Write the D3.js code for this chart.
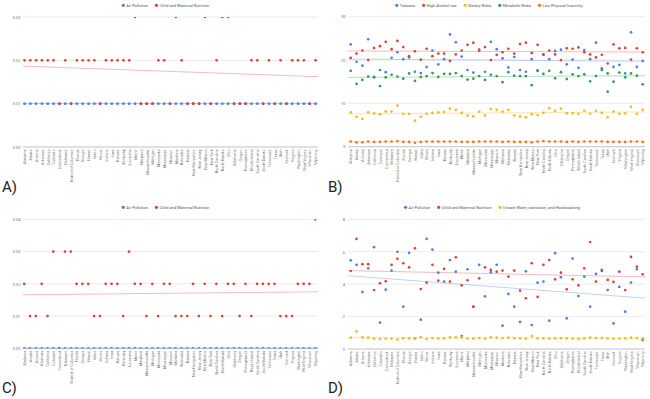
<!DOCTYPE html>
<html>
<head>
<meta charset="utf-8">
<script src="https://cdnjs.cloudflare.com/ajax/libs/d3/7.8.5/d3.min.js"></script>
<style>
    body { margin: 0; background: #fff; }
    svg { display: block; font-family: Roboto, Arial, sans-serif; }
</style>
</head>
<body>
<svg></svg>
<script>
// States along every x axis
let states = ['Alabama','Alaska','Arizona','Arkansas','California','Colorado','Connecticut','Delaware',
    'District of Columbia','Florida','Georgia','Hawaii','Idaho','Illinois','Indiana','Iowa','Kansas',
    'Kentucky','Louisiana','Maine','Maryland','Massachusetts','Michigan','Minnesota','Mississippi',
    'Missouri','Montana','Nebraska','Nevada','New Hampshire','New Jersey','New Mexico','New York',
    'North Carolina','North Dakota','Ohio','Oklahoma','Oregon','Pennsylvania','Rhode Island',
    'South Carolina','South Dakota','Tennessee','Texas','Utah','Vermont','Virginia','Washington',
    'West Virginia','Wisconsin','Wyoming']

// Panel A
let aAirPollution = [0.01,0.01,0.01,0.01,0.01,0.01,0.01,0.01,0.01,0.01,0.01,0.01,0.01,0.01,0.01,0.01,0.01,
    0.01,0.01,0.01,0.01,0.01,0.01,0.01,0.01,0.01,0.01,0.01,0.01,0.01,0.01,0.01,0.01,0.01,0.01,0.01,0.01,
    0.01,0.01,0.01,0.01,0.01,0.01,0.01,0.01,0.01,0.01,0.01,0.01,0.01,0.01]
let aChildNutrition = [0.02,0.02,0.02,0.02,0.02,0.02,0.01,0.02,0.01,0.02,0.02,0.02,0.02,0.01,0.02,0.02,0.02,
    0.02,0.02,0.03,0.01,0.01,0.01,0.02,0.02,0.01,0.03,0.02,0.01,0.01,0.01,0.03,0.01,0.02,0.03,0.03,0.01,
    0.01,0.01,0.02,0.02,0.01,0.02,0.01,0.02,0.01,0.02,0.02,0.02,0.01,0.02]
let aTicks = [0, 0.01, 0.02, 0.03]

// Panel B
let bTobacco = [23.6,19.6,18.7,24.8,16.0,17.7,17.2,20.5,21.8,20.2,20.6,17.3,17.0,18.4,22.2,19.0,20.2,
    25.9,24.1,20.8,17.7,17.1,22.1,17.3,24.2,22.5,20.4,18.3,20.7,17.7,17.3,20.2,17.6,21.2,20.2,22.1,22.4,
    19.0,20.1,18.2,22.3,20.2,24.0,18.1,12.7,18.4,18.9,16.9,26.4,18.4,19.8]
let bAlcohol = [20.5,21.5,22.2,20.0,22.8,23.2,24.2,22.5,24.4,23.0,20.9,22.0,20.1,22.6,20.9,21.5,21.5,
    19.8,21.3,22.2,23.5,24.0,22.4,23.0,20.0,21.2,21.8,22.6,21.5,23.7,24.0,21.6,23.5,21.3,22.2,21.3,20.0,
    22.7,22.6,22.9,21.8,21.3,20.6,21.2,19.2,23.6,22.7,22.8,20.1,22.7,21.8]
let bDietary = [7.9,6.9,6.4,7.9,7.7,7.5,8.1,8.1,9.5,7.6,7.6,6.0,6.9,7.6,7.8,7.9,8.0,8.8,8.5,7.8,7.2,
    7.0,8.1,7.2,8.7,8.5,8.1,8.5,7.2,7.0,6.8,7.5,7.3,7.8,8.9,8.3,8.8,7.7,7.7,7.6,8.3,7.6,8.3,7.8,6.8,8.1,
    7.6,7.7,9.2,7.6,8.5]
let bMetabolic = [17.5,14.5,15.4,16.2,16.1,14.0,16.0,16.6,16.2,15.7,16.9,15.2,16.1,16.3,17.0,16.1,16.8,
    16.8,17.0,16.3,15.5,15.7,16.3,15.4,16.6,16.3,14.9,17.2,16.4,16.3,16.3,14.2,17.5,16.8,17.5,15.8,17.2,
    15.6,16.7,16.3,16.7,15.1,16.3,17.7,16.9,15.0,17.1,16.0,16.9,16.4,14.4]
let bPhysical = [1.2,1.0,1.0,1.2,1.1,1.1,1.2,1.2,1.3,1.1,1.1,0.9,1.1,1.2,1.2,1.2,1.2,1.2,1.2,1.1,1.1,
    1.1,1.2,1.2,1.2,1.2,1.1,1.2,1.1,1.1,1.1,1.0,1.2,1.3,1.2,1.2,1.2,1.1,1.2,1.1,1.2,1.2,1.2,1.2,1.1,1.1,
    1.1,1.1,1.2,1.2,1.1]
let bTicks = [0, 10, 20, 30]

// Panel C
let cAirPollution = [0,0,0,0,0,0,0,0,0,0,0,0,0,0,0,0,0,0,0,0,0,0,0,0,0,0,0,0,0,0,0,0,0,0,0,0,0,0,0,0,
    0,0,0,0,0,0,0,0,0,0,0]
let cChildNutrition = [0.02,0.01,0.01,0.02,0.01,0.03,0.00,0.03,0.03,0.02,0.02,0.02,0.01,0.01,0.02,0.02,
    0.02,0.01,0.03,0.02,0.02,0.01,0.02,0.01,0.02,0.02,0.01,0.01,0.01,0.02,0.01,0.02,0.01,0.02,0.01,0.02,
    0.02,0.01,0.02,0.01,0.02,0.02,0.02,0.02,0.01,0.01,0.01,0.02,0.02,0.02,0.04]
let cTicks = [0, 0.01, 0.02, 0.03, 0.04]

// Panel D
let dAirPollution = [5.47,5.19,3.52,4.98,6.28,1.63,3.66,4.84,6.00,2.61,5.93,0.66,1.81,6.79,6.13,4.71,
    4.16,5.49,4.77,0.80,4.92,2.60,5.19,3.25,4.73,5.19,1.44,3.40,2.61,1.67,4.79,1.48,4.09,4.16,1.75,5.91,
    4.42,1.89,5.58,3.27,4.46,2.61,4.63,4.88,3.64,1.58,3.83,2.30,4.10,4.92,0.56]
let dChildNutrition = [4.81,6.79,5.23,5.23,3.64,4.05,4.18,5.19,5.56,5.29,5.04,6.21,3.70,4.09,5.19,4.22,
    4.94,4.16,5.66,3.93,4.24,2.61,4.36,5.04,4.88,4.77,4.84,4.47,4.84,3.60,3.13,5.29,3.21,5.19,5.49,4.30,
    4.71,3.68,4.30,3.93,4.98,6.60,4.16,4.81,4.26,4.14,4.77,3.64,5.68,5.08,4.61]
let dUnsafeWater = [0.70,1.09,0.72,0.70,0.64,0.62,0.64,0.64,0.58,0.66,0.66,0.68,0.72,0.62,0.68,0.64,
    0.66,0.72,0.72,0.70,0.64,0.64,0.68,0.64,0.72,0.70,0.68,0.70,0.68,0.66,0.64,0.80,0.66,0.66,0.64,0.66,
    0.68,0.66,0.64,0.62,0.66,0.70,0.68,0.68,0.66,0.64,0.64,0.66,0.70,0.68,0.66]
let dTicks = [0, 2, 4, 6, 8]

// Colours
let blue = '#4a80e8'
let red = '#dc4339'
let yellow = '#f6b81c'
let green = '#2f9e4f'
let orange = '#f4761c'

let width = 650
let height = 399

let svg = d3.select('svg')
    .attr('width', width)
    .attr('height', height)

// least squares fit over the state index
let linReg = (values) => {
    let n = values.length
    let mx = d3.mean(values, (v, i) => i)
    let my = d3.mean(values)
    let sxy = d3.sum(values, (v, i) => (i - mx) * (v - my))
    let sxx = d3.sum(values, (v, i) => (i - mx) * (i - mx))
    let slope = sxy / sxx
    return (i) => my + slope * (i - mx)
}

let panels = [
    {
        id: 'a', label: 'A)', labelX: 2, labelY: 192,
        left: 23, right: 318, x0: 24.5, x1: 315.5,
        yTop: 17, yBottom: 147, ticks: aTicks, format: d3.format('.2f'), yLabelX: 20.5,
        legendY: 5.3, legendCx: 165.5,
        series: [
            { name: 'Air Pollution', color: blue, values: aAirPollution },
            { name: 'Child and Maternal Nutrition', color: red, values: aChildNutrition }
        ]
    },
    {
        id: 'b', label: 'B)', labelX: 328, labelY: 192,
        left: 348, right: 645, x0: 350.7, x1: 642.7,
        yTop: 16.7, yBottom: 146.7, ticks: bTicks, format: d3.format('d'), yLabelX: 345.5,
        legendY: 5.3, legendCx: 489,
        series: [
            { name: 'Tobacco', color: blue, values: bTobacco },
            { name: 'High Alcohol use', color: red, values: bAlcohol },
            { name: 'Dietary Risks', color: yellow, values: bDietary },
            { name: 'Metabolic Risks', color: green, values: bMetabolic },
            { name: 'Low Physical Inactivity', color: orange, values: bPhysical }
        ]
    },
    {
        id: 'c', label: 'C)', labelX: 2, labelY: 393,
        left: 23, right: 318, x0: 24.2, x1: 315.3,
        yTop: 219.3, yBottom: 348.3, ticks: cTicks, format: d3.format('.2f'), yLabelX: 20.5,
        legendY: 207.3, legendCx: 165.5,
        series: [
            { name: 'Air Pollution', color: blue, values: cAirPollution },
            { name: 'Child and Maternal Nutrition', color: red, values: cChildNutrition }
        ]
    },
    {
        id: 'd', label: 'D)', labelX: 328, labelY: 393,
        left: 348, right: 645, x0: 350.7, x1: 642.7,
        yTop: 219.3, yBottom: 349, ticks: dTicks, format: d3.format('d'), yLabelX: 345,
        legendY: 207.3, legendCx: 492,
        series: [
            { name: 'Air Pollution', color: blue, values: dAirPollution },
            { name: 'Child and Maternal Nutrition', color: red, values: dChildNutrition },
            { name: 'Unsafe Water, sanitation, and Handwashing', color: yellow, values: dUnsafeWater }
        ]
    }
]

let drawPanel = (p) => {
    let g = svg.append('g')

    let xScale = d3.scalePoint()
        .domain(states)
        .range([p.x0, p.x1])

    let yMax = p.ticks[p.ticks.length - 1]
    let yScale = d3.scaleLinear()
        .domain([0, yMax])
        .range([p.yBottom, p.yTop])

    // gridlines
    g.append('g')
        .selectAll('line')
        .data(p.ticks)
        .enter()
        .append('line')
        .attr('x1', p.left)
        .attr('x2', p.right)
        .attr('y1', (d) => yScale(d))
        .attr('y2', (d) => yScale(d))
        .attr('stroke', (d) => d === 0 ? '#a8a8a8' : '#e4e4e4')
        .attr('stroke-width', 0.7)

    // y axis labels
    let yAxis = d3.axisLeft(yScale)
        .tickValues(p.ticks)
        .tickFormat(p.format)
        .tickSize(0)
        .tickPadding(0)

    g.append('g')
        .attr('transform', 'translate(' + p.yLabelX + ', 0)')
        .call(yAxis)
        .attr('font-size', 4)
        .attr('font-family', null)
        .attr('color', '#777')
        .call((a) => a.select('.domain').remove())

    // x axis labels, rotated
    let xAxis = d3.axisBottom(xScale)
        .tickSize(0)

    g.append('g')
        .attr('transform', 'translate(0, ' + (p.yBottom + 2.5) + ')')
        .call(xAxis)
        .attr('font-size', 3.7)
        .attr('font-family', null)
        .attr('color', '#666')
        .call((a) => a.select('.domain').remove())
        .selectAll('text')
        .attr('transform', 'rotate(-90)')
        .attr('x', 0)
        .attr('y', 0)
        .attr('dy', '0.35em')
        .attr('text-anchor', 'end')

    // trendlines
    let step = xScale.step()
    let iLeft = (p.left - p.x0) / step
    let iRight = (p.right - p.x0) / step
    p.series.forEach((s) => {
        let fit = linReg(s.values)
        g.append('line')
            .attr('x1', p.left)
            .attr('x2', p.right)
            .attr('y1', yScale(fit(iLeft)))
            .attr('y2', yScale(fit(iRight)))
            .attr('stroke', s.color)
            .attr('stroke-opacity', 0.35)
            .attr('stroke-width', 1)
    })

    // dots, clipped to the chart area
    svg.append('clipPath')
        .attr('id', 'clip-' + p.id)
        .append('rect')
        .attr('x', p.left - 3)
        .attr('y', p.yTop)
        .attr('width', p.right - p.left + 6)
        .attr('height', p.yBottom - p.yTop)

    let dots = g.append('g')
        .attr('clip-path', 'url(#clip-' + p.id + ')')

    p.series.forEach((s) => {
        dots.append('g')
            .selectAll('circle')
            .data(s.values)
            .enter()
            .append('circle')
            .attr('cx', (d, i) => xScale(states[i]))
            .attr('cy', (d) => yScale(d))
            .attr('r', 1.35)
            .attr('fill', s.color)
    })

    // legend
    let legend = g.append('g')
        .attr('font-size', 4)
        .attr('fill', '#555')
    let x = 0
    let items = []
    p.series.forEach((s) => {
        let item = legend.append('g')
        item.append('circle')
            .attr('cx', 0)
            .attr('cy', p.legendY)
            .attr('r', 1.6)
            .attr('fill', s.color)
        let t = item.append('text')
            .attr('x', 3)
            .attr('y', p.legendY)
            .attr('dy', '0.35em')
            .text(s.name)
        item.attr('transform', 'translate(' + x + ', 0)')
        x += 3 + t.node().getComputedTextLength() + 8.5
        items.push(item)
    })
    let total = x - 8.5 + 1.6
    legend.attr('transform', 'translate(' + (p.legendCx - total / 2 + 1.6) + ', 0)')

    // panel letter
    svg.append('text')
        .attr('x', p.labelX)
        .attr('y', p.labelY)
        .attr('font-size', 15)
        .attr('fill', '#222')
        .text(p.label)
}

panels.forEach((p) => drawPanel(p))
</script>
</body>
</html>
